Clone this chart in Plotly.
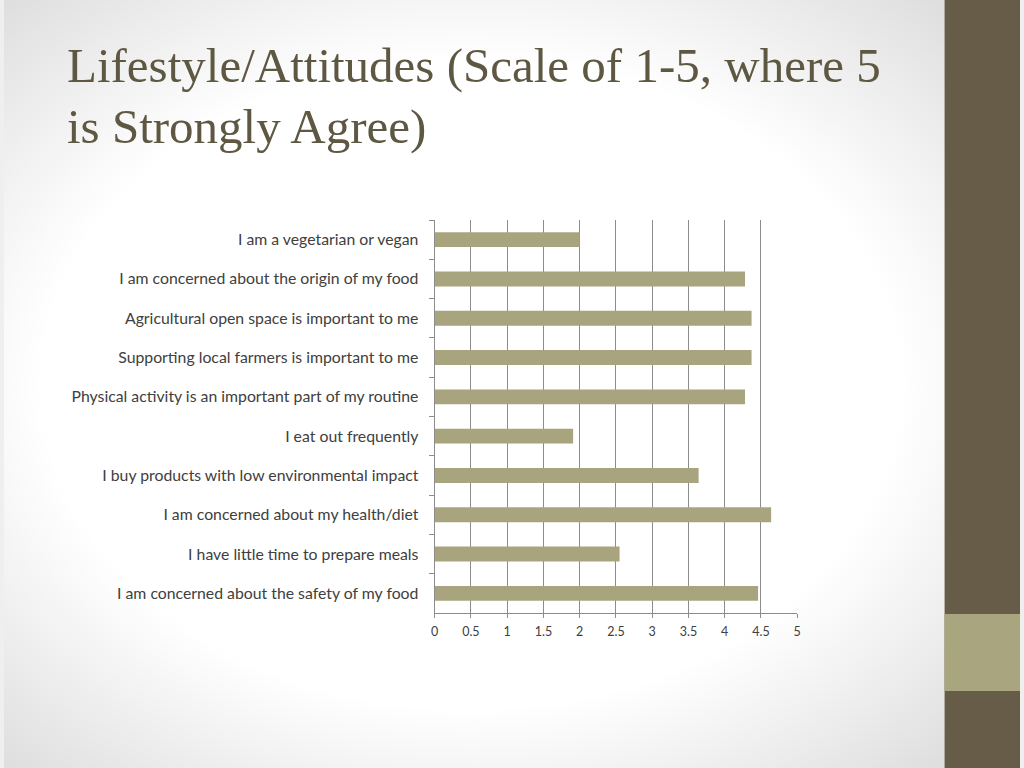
import base64
import plotly.graph_objects as go

# ---- data ----
statements = [
    "I am a vegetarian or vegan",
    "I am concerned about the origin of my food",
    "Agricultural open space is important to me",
    "Supporting local farmers is important to me",
    "Physical activity is an important part of my routine",
    "I eat out frequently",
    "I buy products with low environmental impact",
    "I am concerned about my health/diet",
    "I have little time to prepare meals",
    "I am concerned about the safety of my food",
]
scores = [2.0, 4.28, 4.37, 4.37, 4.28, 1.91, 3.64, 4.64, 2.55, 4.46]
x_tickvals = [0, 0.5, 1, 1.5, 2, 2.5, 3, 3.5, 4, 4.5, 5]
x_ticktext = ["0", "0.5", "1", "1.5", "2", "2.5", "3", "3.5", "4", "4.5", "5"]
title_lines = ["Lifestyle/Attitudes (Scale of 1-5, where 5", "is Strongly Agree)"]

W, H = 1024, 768
BAR_COLOR = "#A8A47E"
DARK = "#665C47"
LIGHT = "#A9A67F"
TITLE_COLOR = "#5E5843"

# slide background: soft radial gradient
svg = f"""<svg xmlns='http://www.w3.org/2000/svg' width='{W}' height='{H}' viewBox='0 0 {W} {H}' preserveAspectRatio='none'>
<defs><radialGradient id='g' cx='0.46' cy='0.5' r='0.68'>
<stop offset='0' stop-color='#ffffff'/>
<stop offset='0.62' stop-color='#ffffff'/>
<stop offset='1' stop-color='#dedede'/>
</radialGradient></defs>
<rect width='{W}' height='{H}' fill='url(#g)'/>
</svg>"""
bg_src = "data:image/svg+xml;base64," + base64.b64encode(svg.encode()).decode()

fig = go.Figure()
fig.add_trace(go.Bar(
    x=scores, y=statements, orientation="h",
    marker=dict(color=BAR_COLOR, line=dict(width=0)),
    width=0.38, hoverinfo="x+y",
))

x0, x1 = 434 / W, 799.5 / W
y_top, y_bot = 1 - 220 / H, 1 - 613 / H

title_font = dict(family="Liberation Serif", size=49, color=TITLE_COLOR)

fig.update_layout(
    width=W, height=H,
    margin=dict(l=0, r=0, t=0, b=0),
    paper_bgcolor="#efefef", plot_bgcolor="rgba(0,0,0,0)",
    showlegend=False,
    images=[dict(source=bg_src, xref="paper", yref="paper", x=0, y=1,
                 sizex=1, sizey=1, xanchor="left", yanchor="top",
                 sizing="stretch", layer="below")],
    xaxis=dict(domain=[x0, x1], range=[0, 5], tickvals=x_tickvals, ticktext=x_ticktext,
               showgrid=True, gridcolor="#8C8C8C", gridwidth=1,
               showline=True, linecolor="#8C8C8C", linewidth=1,
               ticks="outside", ticklen=4, tickcolor="#8C8C8C",
               zeroline=False, fixedrange=True, ticklabelstandoff=3,
               tickfont=dict(family="Lato", size=12.5, color="#404040")),
    yaxis=dict(domain=[y_bot, y_top], autorange="reversed",
               showline=True, linecolor="#8C8C8C", linewidth=1,
               ticks="outside", ticklen=5, tickcolor="#8C8C8C",
               tickson="boundaries", showgrid=False, ticklabelstandoff=12,
               fixedrange=True,
               tickfont=dict(family="Lato", size=15.8, color="#404040")),
    shapes=[
        dict(type="rect", xref="paper", yref="paper", x0=948 / W, x1=1, y0=0, y1=1,
             fillcolor=DARK, line=dict(width=0), layer="below"),
        dict(type="rect", xref="paper", yref="paper", x0=948 / W, x1=1,
             y0=1 - 691 / H, y1=1 - 614 / H,
             fillcolor=LIGHT, line=dict(width=0), layer="below"),
    ],
    annotations=[
        dict(text=title_lines[0], xref="paper", yref="paper",
             x=61 / W, y=1 - 36 / H, xanchor="left", yanchor="top",
             align="left", showarrow=False, font=title_font),
        dict(text=title_lines[1], xref="paper", yref="paper",
             x=61 / W, y=1 - 97 / H, xanchor="left", yanchor="top",
             align="left", showarrow=False, font=title_font),
    ],
)

fig.write_html("out.html", config={"displayModeBar": False},
               post_script="document.body.style.margin='0';")
